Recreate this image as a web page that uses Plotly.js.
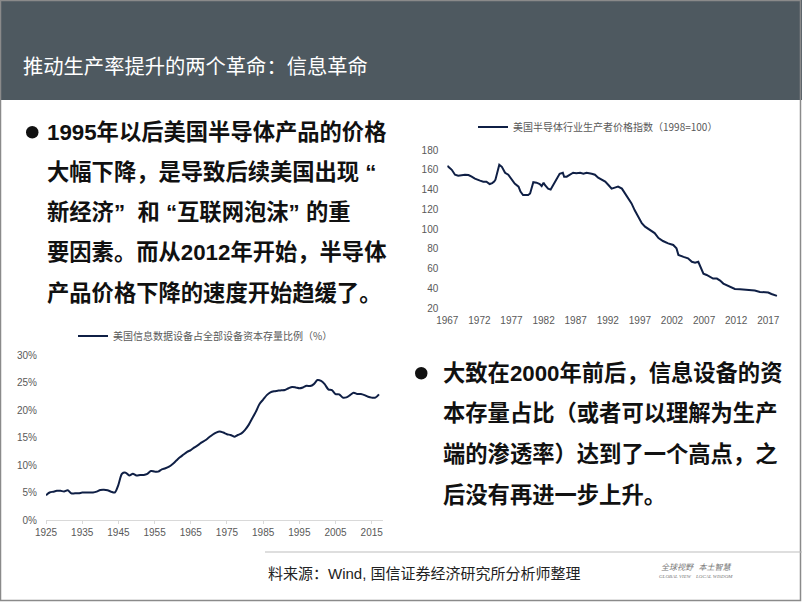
<!DOCTYPE html>
<html><head><meta charset="utf-8">
<script src="https://cdn.plot.ly/plotly-3.0.1.min.js"></script>
<style>html,body{margin:0;padding:0;background:#fff}#c{width:802px;height:602px}</style>
</head><body><div id="c"></div>
<script>
// Right chart: US semiconductor PPI (1998=100)
const ppiYears = [1967.0,1967.7,1968.2,1968.7,1969.75,1970.3,1970.8,1971.3,1972.1,1972.6,1973.1,1973.6,1974.0,1974.3,1974.5,1974.8,1975.1,1975.5,1976.0,1976.5,1977.0,1977.5,1978.1,1978.4,1978.8,1979.6,1979.9,1980.1,1980.4,1980.9,1981.4,1981.7,1982.0,1982.2,1982.7,1983.1,1983.5,1984.0,1984.5,1985.0,1985.2,1985.6,1986.1,1986.6,1987.1,1987.7,1988.2,1988.7,1989.5,1990.0,1990.5,1991.0,1991.6,1992.1,1992.6,1993.1,1993.6,1994.2,1994.7,1995.2,1995.7,1996.2,1996.8,1997.3,1997.8,1998.6,1999.3,1999.9,2000.6,2001.4,2002.2,2002.7,2003.0,2003.8,2004.5,2005.1,2005.6,2006.1,2006.4,2006.9,2007.4,2007.9,2008.4,2009.0,2009.5,2010.0,2010.5,2011.0,2011.8,2012.6,2013.4,2014.1,2014.9,2015.7,2016.5,2017.0,2017.5,2018.0,2018.35];
const ppiValues = [164,160,155,154,155,154.7,153,151,149,148,148,145.6,146.5,148,150,158,165,163,157,155,151,146,143,138,134.5,134.5,136,141,147.5,147,145.6,143.6,147,144.6,141,140,144.6,151,156,157,153,153,155,157,156.4,157,156,157,156,155,152,150,148,144.6,141,142,143,141,136,131,126,119,112.6,106,102.5,99,96,91,88,85.6,84,80.6,74,72,70.5,67,66,67,62,55,53.7,52,50,50,48,45,43.6,42,39.5,39.2,39,38.5,38,36.5,36.5,36,34.5,33,32.5];
const ppiTicks = [1967,1972,1977,1982,1987,1992,1997,2002,2007,2012,2017];
const ppiName = '美国半导体行业生产者价格指数（1998=100）';

// Left chart: info-processing equipment share of total equipment capital stock (%)
const capYears = [1925,1926,1927,1928,1929,1930,1931,1932,1933,1934,1935,1936,1937,1938,1939,1940,1941,1942,1943,1944,1945,1946,1947,1948,1949,1950,1951,1952,1953,1954,1955,1956,1957,1958,1959,1960,1961,1962,1963,1964,1965,1966,1967,1968,1969,1970,1971,1972,1973,1974,1975,1976,1977,1978,1979,1980,1981,1982,1983,1984,1985,1986,1987,1988,1989,1990,1991,1992,1993,1994,1995,1996,1997,1998,1999,2000,2001,2002,2003,2004,2005,2006,2007,2008,2009,2010,2011,2012,2013,2014,2015,2016,2017];
const capShare = [4.5,5.0,5.15,5.3,5.3,5.2,5.4,4.85,4.85,4.85,5.0,5.0,5.0,5.0,5.15,5.45,5.5,5.4,5.15,5.0,6.4,8.4,8.6,8.1,8.4,8.1,8.2,8.2,8.4,8.9,8.8,8.8,9.2,9.4,9.7,10.2,10.8,11.4,11.9,12.4,12.7,13.2,13.6,14.1,14.5,15.0,15.5,15.9,16.1,15.9,15.6,15.45,15.15,15.45,15.75,16.4,17.3,18.5,19.7,21.1,21.9,22.7,23.2,23.4,23.5,23.6,23.65,23.95,24.2,24.1,23.95,24.1,24.4,24.35,24.7,25.45,25.3,24.7,23.75,23.6,22.9,22.85,22.25,22.3,22.7,23.15,22.9,22.9,22.7,22.4,22.25,22.25,22.85];
const capTicks = [1925,1935,1945,1955,1965,1975,1985,1995,2005,2015];
const capName = '美国信息数据设备占全部设备资本存量比例（%）';

const titleText = '推动生产率提升的两个革命：信息革命';
const leftBullet = ['<b>1995年以后美国半导体产品的价格</b>','<b>大幅下降，是导致后续美国出现 “</b>','<b>新经济”  和 “互联网泡沫” 的重</b>','<b>要因素。而从2012年开始，半导体</b>','<b>产品价格下降的速度开始趋缓了。</b>'];
const rightBullet = ['<b>大致在2000年前后，信息设备的资</b>','<b>本存量占比（或者可以理解为生产</b>','<b>端的渗透率）达到了一个高点，之</b>','<b>后没有再进一步上升。</b>'];
const sourceText = '料来源：Wind, 国信证券经济研究所分析师整理';

const W = 802, H = 602;
const px = x => x / W, py = y => 1 - y / H;
const lineColor = '#0f1f45';
const tickFont = {family: 'Liberation Sans, Arial, sans-serif', size: 10, color: '#595959'};

const traces = [
  {x: ppiYears, y: ppiValues, xaxis: 'x', yaxis: 'y', type: 'scatter', mode: 'lines', name: ppiName,
   line: {color: lineColor, width: 2}, legend: 'legend'},
  {x: capYears, y: capShare, xaxis: 'x2', yaxis: 'y2', type: 'scatter', mode: 'lines', name: capName,
   line: {color: lineColor, width: 2, shape: 'spline', smoothing: 0.8}, legend: 'legend2'}
];

const annotations = [];
annotations.push({xref: 'paper', yref: 'paper', x: px(21), y: py(65), xanchor: 'left', yanchor: 'middle', showarrow: false,
  text: titleText, font: {family: 'Noto Sans CJK SC, sans-serif', size: 20.3, color: '#ffffff'}});
const lFont = {family: 'Liberation Sans, Noto Sans CJK SC, sans-serif', size: 22.3, color: '#111111'};
leftBullet.forEach((t, i) => annotations.push({xref: 'paper', yref: 'paper', x: px(45), y: py(132 + i * 40.3),
  xanchor: 'left', yanchor: 'middle', showarrow: false, text: t, font: lFont}));
rightBullet.forEach((t, i) => annotations.push({xref: 'paper', yref: 'paper', x: px(441), y: py(373 + i * 40.7),
  xanchor: 'left', yanchor: 'middle', showarrow: false, text: t, font: lFont}));
annotations.push({xref: 'paper', yref: 'paper', x: px(266), y: py(573), xanchor: 'left', yanchor: 'middle', showarrow: false,
  text: sourceText, font: {family: 'Liberation Sans, Noto Sans CJK SC, sans-serif', size: 15, color: '#222222'}});
annotations.push({xref: 'paper', yref: 'paper', x: px(696), y: py(566), xanchor: 'center', yanchor: 'middle', showarrow: false,
  text: '<i>全球视野   本土智慧</i>', font: {family: 'Noto Sans CJK SC, serif', size: 8, color: '#777777'}});
annotations.push({xref: 'paper', yref: 'paper', x: px(696), y: py(576), xanchor: 'center', yanchor: 'middle', showarrow: false,
  text: '<i>GLOBAL VIEW    LOCAL WISDOM</i>', font: {family: 'Liberation Serif, serif', size: 5, color: '#777777'}});

const shapes = [
  {type: 'rect', xref: 'paper', yref: 'paper', x0: 0, x1: 1, y0: py(100), y1: 1, fillcolor: '#4e5960', line: {width: 0}, layer: 'below'},
  {type: 'rect', xref: 'paper', yref: 'paper', x0: px(0.5), x1: px(800.5), y0: py(600.5), y1: py(0.5), fillcolor: 'rgba(0,0,0,0)', line: {color: '#8a8a8a', width: 1.5}},
  {type: 'line', xref: 'paper', yref: 'paper', x0: px(265), x1: px(802), y0: py(552), y1: py(552), line: {color: '#bdbdbd', width: 1}},
  {type: 'circle', xref: 'paper', yref: 'paper', x0: px(26), x1: px(38.5), y0: py(138.5), y1: py(126), fillcolor: '#111', line: {width: 0}},
  {type: 'circle', xref: 'paper', yref: 'paper', x0: px(415), x1: px(427.5), y0: py(379.5), y1: py(367), fillcolor: '#111', line: {width: 0}}
];

const layout = {
  width: W, height: H, margin: {l: 0, r: 0, t: 0, b: 0},
  paper_bgcolor: '#ffffff', plot_bgcolor: 'rgba(0,0,0,0)', showlegend: true,
  xaxis: {domain: [px(447.3), px(781.1)], range: [1967, 2019], tickvals: ppiTicks, ticktext: ppiTicks.map(String),
    showgrid: false, zeroline: false, showline: false, ticks: '', tickfont: tickFont, anchor: 'y', ticklabelstandoff: 5},
  yaxis: {domain: [py(308.3), py(150)], range: [20, 180], dtick: 20, tick0: 20, showgrid: false, zeroline: false,
    showline: false, ticks: '', tickfont: tickFont, anchor: 'x', ticklabelstandoff: 8},
  xaxis2: {domain: [px(46), px(382.6)], range: [1925, 2018], tickvals: capTicks, ticktext: capTicks.map(String),
    showgrid: false, zeroline: false, showline: true, linecolor: '#d9d9d9', linewidth: 1, ticks: 'outside', ticklen: 3,
    tickcolor: '#d9d9d9', tickfont: tickFont, anchor: 'y2'},
  yaxis2: {domain: [py(520), py(355)], range: [0, 30], dtick: 5, tick0: 0, ticksuffix: '%', showgrid: false, zeroline: false,
    showline: false, ticks: '', tickfont: tickFont, anchor: 'x2', ticklabelstandoff: 8},
  legend: {x: px(473), y: py(127), xanchor: 'left', yanchor: 'middle', bgcolor: 'rgba(0,0,0,0)',
    font: {family: 'Noto Sans CJK SC, sans-serif', size: 10, color: '#595959'}, itemwidth: 30},
  legend2: {x: px(73), y: py(336), xanchor: 'left', yanchor: 'middle', bgcolor: 'rgba(0,0,0,0)',
    font: {family: 'Noto Sans CJK SC, sans-serif', size: 10, color: '#595959'}, itemwidth: 30},
  annotations: annotations, shapes: shapes
};
Plotly.newPlot('c', traces, layout, {displayModeBar: false, staticPlot: true});
</script></body></html>
